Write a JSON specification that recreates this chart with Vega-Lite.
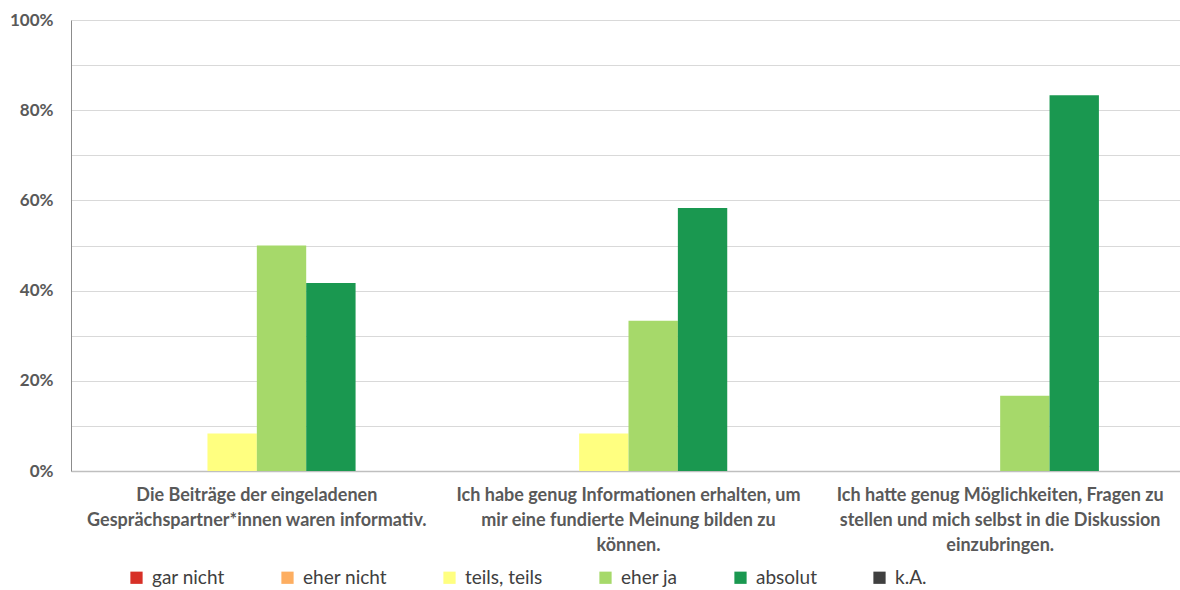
{
  "$schema": "https://vega.github.io/schema/vega-lite/v6.json",
  "width": 1109,
  "height": 451,
  "autosize": {"type": "none"},
  "padding": {"left": 71, "top": 20, "right": 0, "bottom": 119},
  "background": "white",
  "config": {"view": {"stroke": null}, "font": "Lato"},
  "data": {
    "values": [
      {"frage": "Die Beiträge der eingeladenen|Gesprächspartner*innen waren informativ.", "antwort": "gar nicht", "anteil": 0},
      {"frage": "Die Beiträge der eingeladenen|Gesprächspartner*innen waren informativ.", "antwort": "eher nicht", "anteil": 0},
      {"frage": "Die Beiträge der eingeladenen|Gesprächspartner*innen waren informativ.", "antwort": "teils, teils", "anteil": 0.0833},
      {"frage": "Die Beiträge der eingeladenen|Gesprächspartner*innen waren informativ.", "antwort": "eher ja", "anteil": 0.5},
      {"frage": "Die Beiträge der eingeladenen|Gesprächspartner*innen waren informativ.", "antwort": "absolut", "anteil": 0.4167},
      {"frage": "Die Beiträge der eingeladenen|Gesprächspartner*innen waren informativ.", "antwort": "k.A.", "anteil": 0},
      {"frage": "Ich habe genug Informationen erhalten, um|mir eine fundierte Meinung bilden zu|können.", "antwort": "gar nicht", "anteil": 0},
      {"frage": "Ich habe genug Informationen erhalten, um|mir eine fundierte Meinung bilden zu|können.", "antwort": "eher nicht", "anteil": 0},
      {"frage": "Ich habe genug Informationen erhalten, um|mir eine fundierte Meinung bilden zu|können.", "antwort": "teils, teils", "anteil": 0.0833},
      {"frage": "Ich habe genug Informationen erhalten, um|mir eine fundierte Meinung bilden zu|können.", "antwort": "eher ja", "anteil": 0.3333},
      {"frage": "Ich habe genug Informationen erhalten, um|mir eine fundierte Meinung bilden zu|können.", "antwort": "absolut", "anteil": 0.5833},
      {"frage": "Ich habe genug Informationen erhalten, um|mir eine fundierte Meinung bilden zu|können.", "antwort": "k.A.", "anteil": 0},
      {"frage": "Ich hatte genug Möglichkeiten, Fragen zu|stellen und mich selbst in die Diskussion|einzubringen.", "antwort": "gar nicht", "anteil": 0},
      {"frage": "Ich hatte genug Möglichkeiten, Fragen zu|stellen und mich selbst in die Diskussion|einzubringen.", "antwort": "eher nicht", "anteil": 0},
      {"frage": "Ich hatte genug Möglichkeiten, Fragen zu|stellen und mich selbst in die Diskussion|einzubringen.", "antwort": "teils, teils", "anteil": 0},
      {"frage": "Ich hatte genug Möglichkeiten, Fragen zu|stellen und mich selbst in die Diskussion|einzubringen.", "antwort": "eher ja", "anteil": 0.1667},
      {"frage": "Ich hatte genug Möglichkeiten, Fragen zu|stellen und mich selbst in die Diskussion|einzubringen.", "antwort": "absolut", "anteil": 0.8333},
      {"frage": "Ich hatte genug Möglichkeiten, Fragen zu|stellen und mich selbst in die Diskussion|einzubringen.", "antwort": "k.A.", "anteil": 0}
    ]
  },
  "mark": {"type": "bar"},
  "encoding": {
    "x": {
      "field": "frage",
      "type": "nominal",
      "sort": null,
      "title": null,
      "scale": {"paddingInner": 0.203, "paddingOuter": 0.1015, "range": [0, 1115]},
      "axis": {
        "labelAngle": 0,
        "labelExpr": "split(datum.label, '|')",
        "labelFont": "Lato",
        "labelFontSize": 18,
        "labelFontWeight": "bold",
        "labelColor": "#595959",
        "labelLineHeight": 25,
        "labelPadding": 15,
        "labelLimit": 400,
        "ticks": false,
        "domainColor": "#bfbfbf",
        "domainWidth": 1.5
      }
    },
    "xOffset": {
      "field": "antwort",
      "type": "nominal",
      "sort": ["gar nicht", "eher nicht", "teils, teils", "eher ja", "absolut", "k.A."],
      "scale": {"paddingInner": 0, "paddingOuter": 0}
    },
    "y": {
      "field": "anteil",
      "type": "quantitative",
      "title": null,
      "scale": {"domain": [0, 1], "nice": false},
      "axis": {
        "values": [0, 0.1, 0.2, 0.3, 0.4, 0.5, 0.6, 0.7, 0.8, 0.9, 1],
        "labelExpr": "round(datum.value * 10) % 2 == 1 ? '' : format(datum.value, '.0%')",
        "labelFont": "Lato",
        "labelFontSize": 17,
        "labelFontWeight": "bold",
        "labelColor": "#595959",
        "labelPadding": 18,
        "ticks": false,
        "gridColor": "#d9d9d9",
        "gridWidth": 1,
        "domainColor": "#8c8c8c",
        "domainWidth": 1
      }
    },
    "color": {
      "field": "antwort",
      "type": "nominal",
      "title": null,
      "scale": {
        "domain": ["gar nicht", "eher nicht", "teils, teils", "eher ja", "absolut", "k.A."],
        "range": ["#d73027", "#fdae61", "#ffff80", "#a6d96a", "#1a9850", "#404040"]
      },
      "legend": {
        "orient": "none",
        "legendX": 56,
        "legendY": 548,
        "direction": "horizontal",
        "symbolType": "square",
        "symbolSize": 150,
        "symbolStrokeWidth": 0,
        "labelFont": "Lato",
        "labelFontSize": 19,
        "labelColor": "#404040",
        "labelOffset": 6,
        "columnPadding": 53,
        "labelLimit": 200
      }
    }
  }
}
